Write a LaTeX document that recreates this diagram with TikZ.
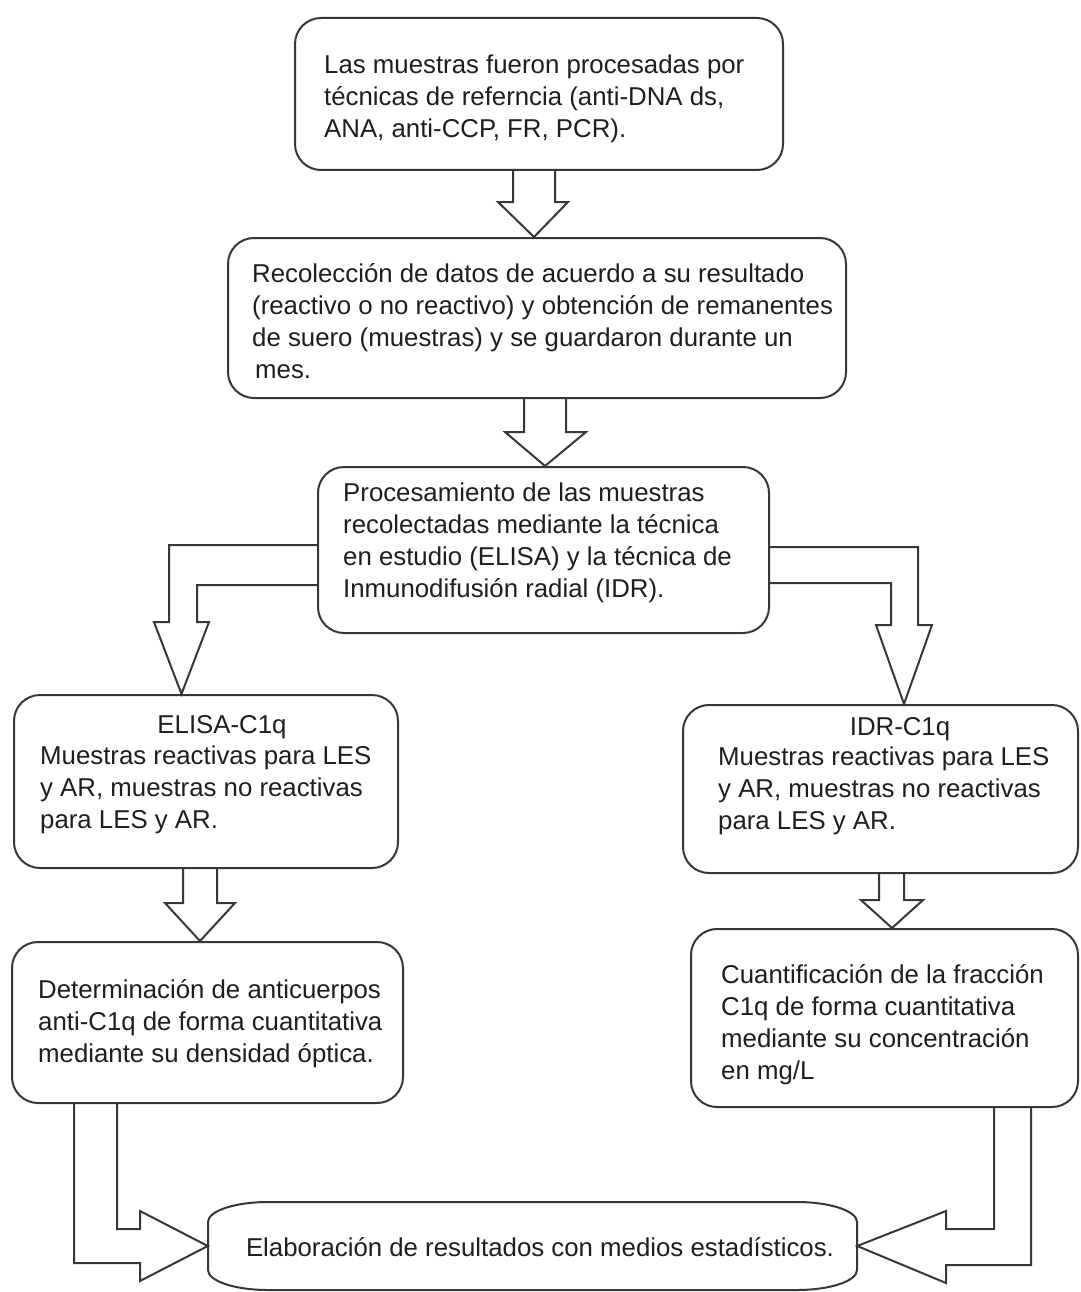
\documentclass[tikz,border=0pt]{standalone}
\usepackage{fontspec}
\setmainfont{Liberation Sans}
\usetikzlibrary{calc}
\definecolor{ln}{RGB}{55,55,55}
\definecolor{tx}{RGB}{30,30,30}
\begin{document}
\begin{tikzpicture}[x=1pt,y=-1pt,
  box/.style={draw=ln, line width=2pt, rounded corners=26pt, inner sep=0pt},
  txt/.style={text=tx, font=\fontsize{25.8}{32}\selectfont, align=left, inner sep=0pt, anchor=west},
  hdr/.style={text=tx, font=\fontsize{25.8}{32}\selectfont, inner sep=0pt},
  arr/.style={draw=ln, line width=2pt, line join=miter}]
\fill[white] (0,0) rectangle (1080,1292);
\useasboundingbox (0,0) rectangle (1080,1292);

% boxes
\node[box, minimum width=488pt, minimum height=152pt] (b1) at (539,94) {};
\node[box, minimum width=618pt, minimum height=160pt] (b2) at (537,318) {};
\node[box, minimum width=451pt, minimum height=166pt] (b3) at (543.5,550) {};
\node[box, minimum width=384pt, minimum height=173pt] (b4) at (206,781.5) {};
\node[box, minimum width=395pt, minimum height=168pt] (b5) at (880.5,789) {};
\node[box, minimum width=391pt, minimum height=161pt] (b6) at (207.5,1022.5) {};
\node[box, minimum width=387pt, minimum height=178pt] (b7) at (884.5,1018) {};
\node[inner sep=0pt, minimum width=649pt, minimum height=88pt] (b8) at (532.5,1246) {};
\draw[arr] (208,1222) arc[start angle=180, end angle=270, x radius=60, y radius=20]
  -- (797,1202) arc[start angle=270, end angle=360, x radius=60, y radius=20]
  -- (857,1270) arc[start angle=0, end angle=90, x radius=60, y radius=20]
  -- (268,1290) arc[start angle=90, end angle=180, x radius=60, y radius=20] -- cycle;

% texts
\node[txt] (t1) at (324,99) {Las muestras fueron procesadas por\\técnicas de referncia (anti-DNA ds,\\ANA, anti-CCP, FR, PCR).};
\node[txt] (t2) at (252,321) {Recolección de datos de acuerdo a su resultado\\(reactivo o no reactivo) y obtención de remanentes\\de suero (muestras) y se guardaron durante un\\\hspace*{3pt}mes.};
\node[txt] (t3) at (343,543) {Procesamiento de las muestras\\recolectadas mediante la técnica\\en estudio (ELISA) y la técnica de\\Inmunodifusión radial (IDR).};
\node[hdr] (t4h) at (222,727) {ELISA-C1q};
\node[txt] (t4) at (40,789.5) {Muestras reactivas para LES\\y AR, muestras no reactivas\\para LES y AR.};
\node[hdr] (t5h) at (900,729) {IDR-C1q};
\node[txt] (t5) at (718,791) {Muestras reactivas para LES\\y AR, muestras no reactivas\\para LES y AR.};
\node[txt] (t6) at (38,1023.5) {Determinación de anticuerpos\\anti-C1q de forma cuantitativa\\mediante su densidad óptica.};
\node[txt] (t7) at (721,1024.5) {Cuantificación de la fracción\\C1q de forma cuantitativa\\mediante su concentración\\en mg/L};
\node[hdr] (t8) at (540,1247) {Elaboración de resultados con medios estadísticos.};

% block arrows
\draw[arr] (b1.south -| 513,0) -- (513,202) -- (498,202) -- (b2.north -| 534,0) -- (568,202) -- (555,202) -- (b1.south -| 555,0);
\draw[arr] (b2.south -| 524,0) -- (524,432) -- (505,432) -- (b3.north -| 545,0) -- (586,432) -- (566,432) -- (b2.south -| 566,0);
\draw[arr] (b3.west |- 0,545) -- (169,545) -- (169,622) -- (154,622) -- (b4.north -| 181.5,0) -- (209,622) -- (197,622) -- (197,585) -- (b3.west |- 0,585);
\draw[arr] (b3.east |- 0,547) -- (918,547) -- (918,625) -- (932,625) -- (b5.north -| 904,0) -- (876,625) -- (891,625) -- (891,583) -- (b3.east |- 0,583);
\draw[arr] (b4.south -| 183,0) -- (183,903) -- (165,903) -- (b6.north -| 200,0) -- (235,903) -- (217,903) -- (b4.south -| 217,0);
\draw[arr] (b5.south -| 879,0) -- (879,900) -- (861,900) -- (b7.north -| 892,0) -- (923,900) -- (904,900) -- (b5.south -| 904,0);
\draw[arr] (b6.south -| 74,0) -- (74,1263) -- (140,1263) -- (140,1281) -- (b8.west) -- (140,1211) -- (140,1229) -- (117,1229) -- (b6.south -| 117,0);
\draw[arr] (b7.south -| 994,0) -- (994,1229) -- (946,1229) -- (946,1211) -- (b8.east) -- (946,1283) -- (946,1265) -- (1031,1265) -- (b7.south -| 1031,0);
\end{tikzpicture}
\end{document}
